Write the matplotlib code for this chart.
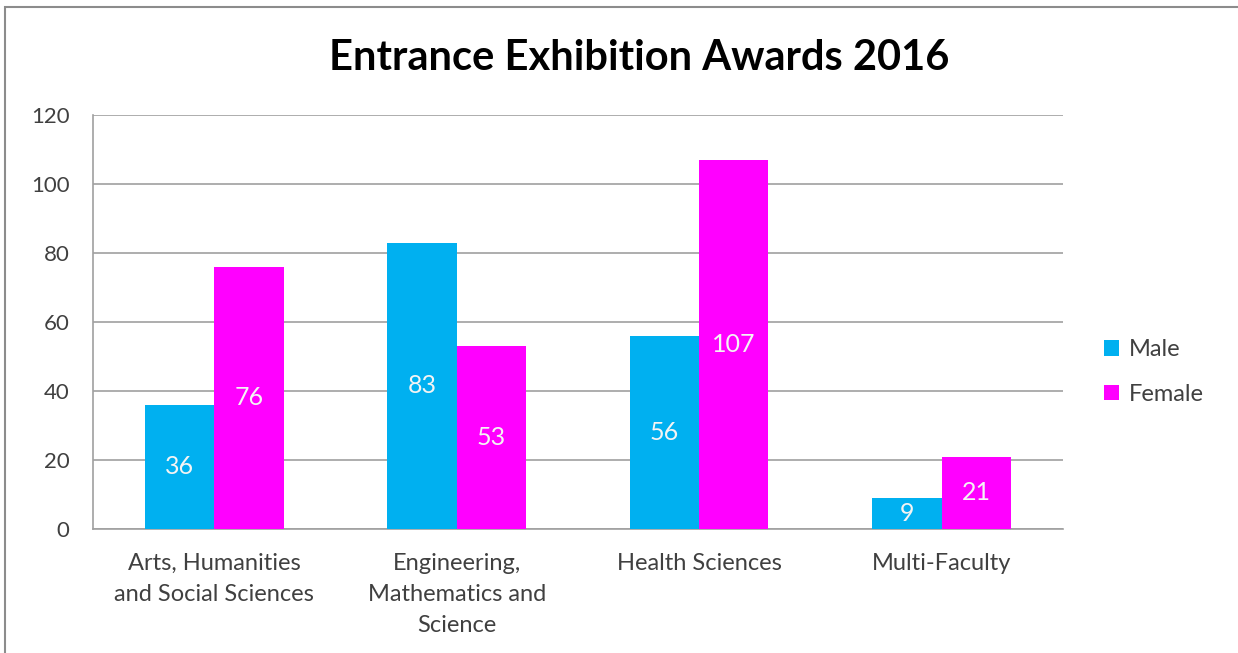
import numpy as np
import matplotlib.pyplot as plt
from matplotlib.patches import Rectangle

categories = ["Arts, Humanities\nand Social Sciences",
              "Engineering,\nMathematics and\nScience",
              "Health Sciences",
              "Multi-Faculty"]
male = [36, 83, 56, 9]
female = [76, 53, 107, 21]
series_names = ["Male", "Female"]
yticks = [0, 20, 40, 60, 80, 100, 120]

plt.rcParams['font.family'] = ['Lato', 'DejaVu Sans']

fig = plt.figure(figsize=(12.38, 6.53), dpi=100)
ax = fig.add_axes([0.0751, 0.1899, 0.7835, 0.634])

# рамка вокруг диаграммы
fig.patches.append(Rectangle((5 / 1238, -0.1), 1.1, 1 - 7 / 653 + 0.1,
                             transform=fig.transFigure, fill=False,
                             edgecolor='#8c8c8c', linewidth=1.5))

x = np.arange(len(categories))
w = 1 / 3.5
b1 = ax.bar(x - w / 2, male, w, color='#00B0F0', label=series_names[0], zorder=3)
b2 = ax.bar(x + w / 2, female, w, color='#FF00FF', label=series_names[1], zorder=3)

for bars in (b1, b2):
    for r in bars:
        h = r.get_height()
        ax.text(r.get_x() + r.get_width() / 2, h / 2, f"{h:g}",
                ha='center', va='center', color='#f4f4f4', fontsize=18, zorder=4)

ax.set_xlim(-0.5, len(categories) - 0.5)
ax.set_ylim(0, 120)
ax.set_yticks(yticks)
ax.yaxis.grid(True, color='#a0a0a0', linewidth=1.2, zorder=0)
ax.set_axisbelow(True)
for s in ['top', 'right']:
    ax.spines[s].set_visible(False)
for s in ['left', 'bottom']:
    ax.spines[s].set_color('#a0a0a0')
    ax.spines[s].set_linewidth(1.2)
ax.tick_params(axis='both', length=0, colors='#404040')
ax.tick_params(axis='y', pad=17, labelsize=16)
ax.tick_params(axis='x', pad=17, labelsize=17)
ax.set_xticks(x)
ax.set_xticklabels(categories, linespacing=1.6)

fig.text(0.516, 0.911, "Entrance Exhibition Awards 2016", ha='center', va='center',
         fontsize=30, fontweight='bold', color='black')

leg = ax.legend(loc='center left', bbox_to_anchor=(1.02, 0.379), frameon=False,
                fontsize=17, handlelength=0.65, handleheight=0.65, handletextpad=0.4,
                labelspacing=1.0, labelcolor='#404040')

fig.savefig("out.png", dpi=100)
